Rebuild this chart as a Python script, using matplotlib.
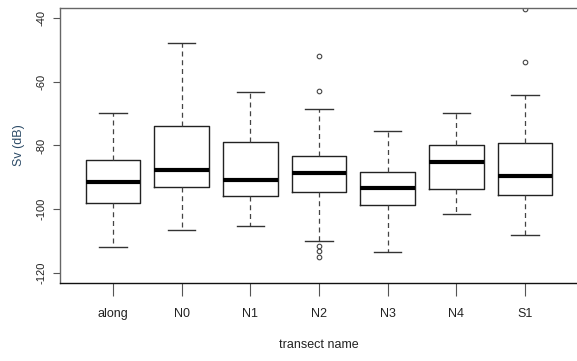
import matplotlib
matplotlib.use("Agg")
import matplotlib.pyplot as plt
from matplotlib import font_manager

names = ["along", "N0", "N1", "N2", "N3", "N4", "S1"]
whislo = [-111.9, -106.6, -105.4, -109.9, -113.4, -101.4, -108.2]
q1 = [-98.1, -93.1, -95.8, -94.7, -98.7, -93.7, -95.5]
med = [-91.4, -87.8, -90.8, -88.6, -93.3, -85.2, -89.5]
q3 = [-84.7, -73.75, -78.75, -83.2, -88.3, -79.8, -79.1]
whishi = [-69.8, -47.9, -63.1, -68.4, -75.4, -69.8, -64.0]
fliers = [[], [], [], [-52.0, -62.9, -111.5, -113.2, -114.9], [], [], [-37.2, -53.7]]
yticks = [-120, -100, -80, -60, -40]

avail = {f.name for f in font_manager.fontManager.ttflist}
narrow = "Liberation Sans Narrow" if "Liberation Sans Narrow" in avail else "Liberation Sans"

plt.rcParams['font.family'] = ['Liberation Sans', 'DejaVu Sans']

fig = plt.figure(figsize=(5.77, 3.61), dpi=100)
ax = fig.add_axes([60/577, 1 - 283/361, 518/577, 275/361])

stats = []
for i in range(len(names)):
    stats.append(dict(label=names[i], whislo=whislo[i], q1=q1[i], med=med[i],
                      q3=q3[i], whishi=whishi[i], fliers=fliers[i]))

ax.bxp(stats, positions=range(1, len(names) + 1), widths=0.8,
       patch_artist=False,
       boxprops=dict(color="#222222", linewidth=1.0),
       medianprops=dict(color="black", linewidth=3.0, solid_capstyle="butt"),
       whiskerprops=dict(color="#444444", linewidth=0.9, linestyle=(0, (4, 3))),
       capprops=dict(color="#333333", linewidth=1.0),
       capwidths=0.4,
       flierprops=dict(marker="o", markersize=3.3, markerfacecolor="none",
                       markeredgecolor="#444444", markeredgewidth=0.8))

ax.set_xlim(0.228, 7.772)
ax.set_ylim(-123.2, -36.8)
ax.set_yticks(yticks)
ax.set_yticklabels([str(v) for v in yticks], rotation=90, va="center",
                   fontsize=8, color="#222222")
ax.set_xticks(range(1, len(names) + 1))
ax.set_xticklabels(names, fontsize=9, family=[narrow, 'DejaVu Sans'], color="#222222")
ax.tick_params(axis="y", length=5, width=0.8, color="#555555", pad=5)
ax.tick_params(axis="x", length=9, width=0.8, color="#555555", pad=9)

for s in ["left", "top", "right"]:
    ax.spines[s].set_color("#666666")
    ax.spines[s].set_linewidth(1.0)
ax.spines["bottom"].set_color("#111111")
ax.spines["bottom"].set_linewidth(1.0)

ax.set_ylabel("Sv (dB)", fontsize=9, color="#2b4a66", labelpad=8)
ax.set_xlabel("transect name", fontsize=9, family=[narrow, 'DejaVu Sans'],
              color="#222222", labelpad=14)

fig.savefig("out.png", dpi=100)
